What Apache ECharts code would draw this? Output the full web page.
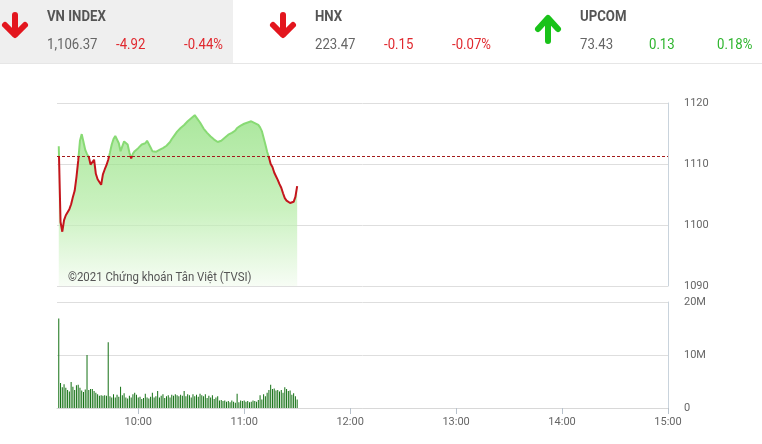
<!DOCTYPE html>
<html>
<head>
<meta charset="utf-8">
<script src="https://cdn.jsdelivr.net/npm/echarts@6/dist/echarts.min.js"></script>
<style>
  html, body { margin: 0; padding: 0; background: #fff; }
  #chart { width: 762px; height: 444px; }
</style>
</head>
<body>
<div id="chart"></div>
<script>
// trục thời gian 09:14 -> 15:00, mỗi phút một điểm
const categories = [];
for (let m = 9 * 60 + 14; m <= 15 * 60; m++) {
  const h = Math.floor(m / 60), mm = m % 60;
  categories.push((h < 10 ? "0" : "") + h + ":" + (mm < 10 ? "0" : "") + mm);
}
// dữ liệu bắt đầu từ 09:15 (vị trí 1 trên trục) tới 11:30
const firstIdx = 1;

const refClose = 1111.29;

const price = [
  1112.9, 1100.5, 1098.9, 1100.8, 1101.6, 1101.3, 1102.6, 1103.4, 1104.6, 1105.6,
  1107.8, 1110.5, 1113.8, 1114.9, 1113.6, 1112.3, 1111.6, 1111.2, 1109.9, 1110.2,
  1110.7, 1108.4, 1107.5, 1107.2, 1106.6, 1108.3, 1109.1, 1109.8, 1110.7, 1111.9,
  1113.2, 1114.1, 1114.6, 1114.8, 1113.4, 1112.1, 1112.4, 1113.7, 1113.8, 1113.2,
  1111.9, 1110.9, 1111.7, 1112.1, 1112.4, 1112.6, 1112.9, 1113.2, 1113.3, 1113.4,
  1113.8, 1113.5, 1112.7, 1112.1, 1112.0, 1112.0, 1112.1, 1112.3, 1112.4, 1112.6,
  1112.7, 1113.0, 1113.2, 1113.6, 1114.1, 1114.5, 1114.9, 1115.3, 1115.6, 1115.9,
  1116.1, 1116.4, 1116.7, 1117.0, 1117.3, 1117.5, 1117.8, 1118.0, 1117.6, 1117.3,
  1116.8, 1116.3, 1115.8, 1115.5, 1115.1, 1114.9, 1114.5, 1114.2, 1114.0, 1113.7,
  1113.6, 1113.4, 1113.8, 1114.0, 1114.3, 1114.6, 1114.8, 1115.0, 1115.1, 1115.3,
  1115.5, 1115.9, 1116.1, 1116.3, 1116.4, 1116.6, 1116.7, 1116.8, 1116.9, 1117.0,
  1116.8, 1116.7, 1116.5, 1116.4, 1116.0, 1115.4, 1114.3, 1113.2, 1112.0, 1111.1,
  1110.0, 1109.5, 1108.6, 1108.0, 1107.4, 1106.7, 1106.1, 1105.2, 1104.4, 1104.0,
  1103.9, 1103.6, 1103.3, 1103.8, 1104.6, 1106.37
];

// khối lượng (triệu cp)
const volume = [
  16.9, 4.7, 3.9, 4.5, 3.8, 3.4, 3.1, 4.9, 4.0, 3.4,
  4.3, 4.4, 3.8, 3.3, 3.0, 3.5, 10.0, 3.4, 3.6, 3.6,
  3.2, 2.9, 2.6, 2.3, 2.4, 2.3, 2.4, 2.3, 12.4, 2.2,
  2.0, 2.6, 2.0, 2.5, 2.1, 4.0, 2.4, 2.8, 2.0, 1.8,
  2.3, 2.0, 2.6, 2.9, 2.5, 2.0, 2.1, 1.7, 1.9, 2.7,
  2.0, 1.8, 2.1, 2.9, 2.0, 2.2, 3.2, 2.0, 2.3, 2.6,
  1.9, 2.2, 2.4, 2.0, 2.5, 2.3, 2.6, 2.4, 2.2, 2.5,
  2.3, 3.2, 2.2, 2.6, 2.4, 2.0, 2.6, 2.2, 2.5, 2.1,
  2.7, 2.4, 2.2, 2.6, 1.9, 2.3, 2.0, 2.4, 1.7, 2.0,
  2.2, 1.4, 1.5, 1.3, 1.4, 1.2, 1.3, 1.1, 1.4, 1.2,
  1.0, 2.7, 1.1, 1.4, 1.3, 1.4, 1.2, 1.3, 1.1, 1.2,
  1.4, 1.3, 1.2, 1.5, 2.4, 1.6, 2.6, 2.2, 2.9, 3.4,
  4.4, 3.6, 3.7, 3.3, 3.4, 3.1, 3.4, 2.9, 3.9, 3.6,
  3.2, 3.3, 2.5, 2.8, 2.2, 1.6
];

const indices = [
  { name: "VN INDEX", value: "1,106.37", change: "-4.92", pct: "-0.44%", up: false, x: 0 },
  { name: "HNX", value: "223.47", change: "-0.15", pct: "-0.07%", up: false, x: 268 },
  { name: "UPCOM", value: "73.43", change: "0.13", pct: "0.18%", up: true, x: 533 }
];

const RED = "#e0282e";
const GREEN = "#2db52d";
const titleFont = "bold 15px Roboto, sans-serif";
const numFont = "14px Roboto, sans-serif";

function header() {
  const els = [
    { type: "rect", shape: { x: 0, y: 0, width: 233, height: 63 }, style: { fill: "#efefef" } },
    { type: "line", shape: { x1: 0, y1: 63.5, x2: 762, y2: 63.5 }, style: { stroke: "#e6e6e6", lineWidth: 1 } }
  ];
  indices.forEach(d => {
    const cx = d.x + 15;
    const col = d.up ? GREEN : RED;
    const arrowStyle = { stroke: d.up ? "#19c219" : "#e3161e", lineWidth: 6, lineCap: "round", lineJoin: "round", fill: null };
    if (d.up) {
      els.push({ type: "polyline", shape: { points: [[cx, 41], [cx, 20]] }, style: arrowStyle });
      els.push({ type: "polyline", shape: { points: [[cx - 10, 29], [cx, 18], [cx + 10, 29]] }, style: arrowStyle });
    } else {
      els.push({ type: "polyline", shape: { points: [[cx, 15], [cx, 34]] }, style: arrowStyle });
      els.push({ type: "polyline", shape: { points: [[cx - 10, 25], [cx, 35], [cx + 10, 25]] }, style: arrowStyle });
    }
    els.push({ type: "text", x: d.x + 47, y: 17, scaleX: 0.88, style: { text: d.name, font: titleFont, fill: "#555", verticalAlign: "middle" } });
    els.push({ type: "text", x: d.x + 47, y: 45, scaleX: 0.94, style: { text: d.value, font: numFont, fill: "#666", verticalAlign: "middle" } });
    els.push({ type: "text", x: d.x + 116, y: 45, scaleX: 0.94, style: { text: d.change, font: numFont, fill: col, verticalAlign: "middle" } });
    els.push({ type: "text", x: d.x + 184, y: 45, scaleX: 0.94, style: { text: d.pct, font: numFont, fill: col, verticalAlign: "middle" } });
  });
  els.push({
    type: "text", x: 68, y: 278, scaleX: 0.95, z: 100,
    style: { text: "©2021 Chứng khoán Tân Việt (TVSI)", font: "12px Roboto, sans-serif", fill: "#555", verticalAlign: "middle" }
  });
  return els;
}

const hourOnly = (i, v) => v.slice(3) === "00";

const chart = echarts.init(document.getElementById("chart"));
chart.setOption({
  animation: false,
  grid: [
    { left: 57, right: 94, top: 103, height: 183 },
    { left: 57, right: 94, top: 302, height: 106 }
  ],
  xAxis: [
    {
      type: "category", gridIndex: 0, data: categories, boundaryGap: false,
      axisLine: { show: false }, axisTick: { show: false }, axisLabel: { show: false }, splitLine: { show: false }
    },
    {
      type: "category", gridIndex: 1, data: categories, boundaryGap: false,
      axisLine: { show: true, lineStyle: { color: "#d8d8d8" } },
      axisTick: { show: true, interval: hourOnly, length: 6, lineStyle: { color: "#b8c2cc" } },
      axisLabel: { interval: hourOnly, color: "#666", fontSize: 11, margin: 9, fontFamily: "Roboto" },
      splitLine: { show: false }
    }
  ],
  yAxis: [
    {
      type: "value", gridIndex: 0, position: "right", min: 1090, max: 1120, interval: 10,
      axisLine: { show: true, lineStyle: { color: "#c9d3dc" } },
      axisTick: { show: false },
      axisLabel: { color: "#666", fontSize: 11, margin: 16, fontFamily: "Roboto", formatter: v => String(v) },
      splitLine: { lineStyle: { color: "#dedede" } }
    },
    {
      type: "value", gridIndex: 1, position: "right", min: 0, max: 20, interval: 10,
      axisLine: { show: true, lineStyle: { color: "#c9d3dc" } },
      axisTick: { show: false },
      axisLabel: { color: "#666", fontSize: 11, margin: 16, fontFamily: "Roboto", formatter: v => (v === 0 ? "0" : v + "M") },
      splitLine: { lineStyle: { color: "#dedede" } }
    }
  ],
  visualMap: {
    type: "piecewise", show: false, seriesIndex: 0, dimension: 1,
    pieces: [
      { gte: 1080, lte: refClose, color: "#c4151c" },
      { gt: refClose, lte: 1130, color: "#88da74" }
    ]
  },
  series: [
    {
      type: "line", xAxisIndex: 0, yAxisIndex: 0,
      data: price.map((v, i) => [firstIdx + i, v]),
      showSymbol: false,
      lineStyle: { width: 2 },
      areaStyle: {
        origin: "start",
        color: new echarts.graphic.LinearGradient(0, 0, 0, 1, [
          { offset: 0, color: "#86dc72" },
          { offset: 0.55, color: "#b3eba4" },
          { offset: 1, color: "#f3fbf0" }
        ])
      },
      markLine: {
        silent: true, symbol: ["none", "none"], label: { show: false },
        lineStyle: { color: "#a31b1b", type: [3, 2], width: 1 },
        data: [{ yAxis: refClose }]
      }
    },
    {
      type: "bar", xAxisIndex: 1, yAxisIndex: 1,
      data: volume.map((v, i) => [firstIdx + i, v]),
      barWidth: 1,
      itemStyle: { color: "#137013" }
    }
  ],
  graphic: header()
});
</script>
</body>
</html>
